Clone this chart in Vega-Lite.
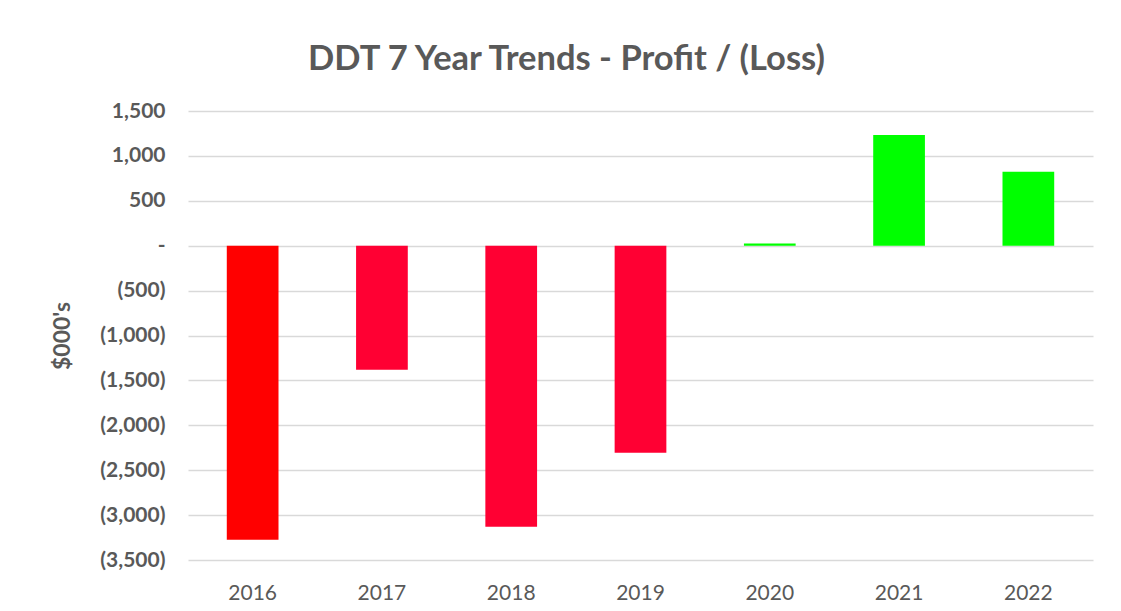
{
  "$schema": "https://vega.github.io/schema/vega-lite/v6.json",
  "width": 905,
  "height": 449,
  "autosize": "none",
  "padding": {"left": 188, "top": 111, "right": 28, "bottom": 51},
  "background": "white",
  "title": {
    "text": "DDT 7 Year Trends - Profit / (Loss)",
    "font": "Lato",
    "fontSize": 34.5,
    "fontWeight": "bold",
    "color": "#595959",
    "anchor": "middle",
    "baseline": "alphabetic",
    "offset": -4,
    "dx": -74
  },
  "data": {
    "values": [
      {"year": "2016", "value": -3274, "color": "#FF0000"},
      {"year": "2017", "value": -1381, "color": "#FF0033"},
      {"year": "2018", "value": -3129, "color": "#FF0033"},
      {"year": "2019", "value": -2305, "color": "#FF0033"},
      {"year": "2020", "value": 25, "color": "#00FF00"},
      {"year": "2021", "value": 1233, "color": "#00FF00"},
      {"year": "2022", "value": 824, "color": "#00FF00"}
    ]
  },
  "mark": {"type": "bar"},
  "encoding": {
    "x": {
      "field": "year",
      "type": "nominal",
      "sort": null,
      "scale": {"paddingInner": 0.6, "paddingOuter": 0.3},
      "axis": {
        "title": null,
        "labelAngle": 0,
        "labelFont": "Lato",
        "labelFontSize": 21,
        "labelColor": "#595959",
        "labelPadding": 22,
        "ticks": false,
        "domain": false,
        "grid": false
      }
    },
    "y": {
      "field": "value",
      "type": "quantitative",
      "scale": {"domain": [-3500, 1500], "nice": false, "zero": false},
      "axis": {
        "title": "$000's",
        "titleFont": "Lato",
        "titleFontSize": 23,
        "titleFontWeight": "bold",
        "titleColor": "#595959",
        "titlePadding": 25,
        "values": [-3500, -3000, -2500, -2000, -1500, -1000, -500, 0, 500, 1000, 1500],
        "labelExpr": "datum.value == 0 ? '-\u00a0\u00a0\u00a0' : (datum.value > 0 ? format(datum.value, ',') + '\u00a0' : format(datum.value, '(,'))",
        "labelFont": "Lato",
        "labelFontSize": 21,
        "labelFontWeight": "bold",
        "labelColor": "#595959",
        "labelPadding": 23,
        "ticks": false,
        "domain": false,
        "grid": true,
        "gridColor": "#d9d9d9",
        "gridWidth": 1.5
      }
    },
    "color": {"field": "color", "type": "nominal", "scale": null, "legend": null}
  },
  "config": {"view": {"stroke": null}}
}
